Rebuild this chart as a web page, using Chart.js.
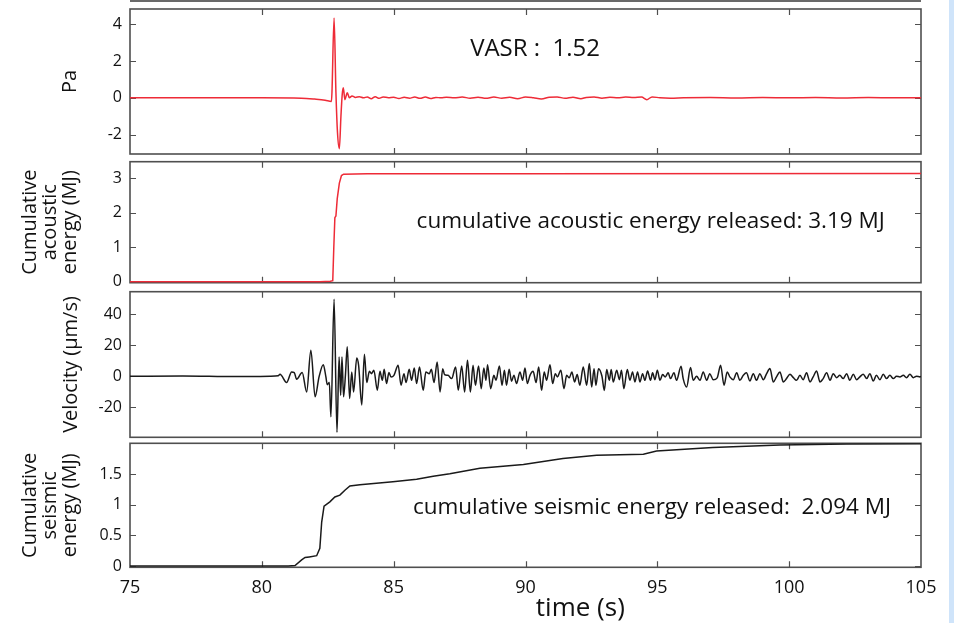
<!DOCTYPE html>
<html>
<head>
<meta charset="utf-8">
<script src="https://cdn.jsdelivr.net/npm/chart.js@4.4.0/dist/chart.umd.min.js"></script>
<style>
  html, body { margin: 0; padding: 0; background: #fff; }
  #wrap { position: relative; width: 954px; height: 623px; overflow: hidden; }
  #wrap canvas { position: absolute; left: 0; }
  #topline { position: absolute; left: 130px; top: 0; width: 791px; height: 2px; background: #6a6a6a; }
  #strip { position: absolute; left: 949px; top: 0; width: 5px; height: 623px; background: #cfe4fa; }
</style>
</head>
<body>
<div id="wrap">
  <div id="topline"></div>
  <canvas id="c1" width="954" height="160" style="top:0px"></canvas>
  <canvas id="c2" width="954" height="130" style="top:156px"></canvas>
  <canvas id="c3" width="954" height="152" style="top:287px"></canvas>
  <canvas id="c4" width="954" height="183" style="top:440px"></canvas>
  <div id="strip"></div>
</div>
<script>
// time axis
const timeTicks = [75, 80, 85, 90, 95, 100, 105];

// acoustic pressure (Pa)
const paTime = [75, 80, 81.5, 82.0, 82.4, 82.64, 82.66, 82.74, 82.81, 82.87, 82.94, 83.00, 83.05, 83.09, 83.15, 83.24, 83.32, 83.42, 83.55, 83.7, 83.85,
  84.0, 84.15, 84.3, 84.45, 84.6, 84.8, 85.0, 85.2, 85.4, 85.6, 85.8, 86.0, 86.2, 86.4, 86.6, 86.8, 87.0, 87.3, 87.6, 87.9, 88.2, 88.5, 88.8,
  89.1, 89.4, 89.7, 90.0, 90.3, 90.6, 90.9, 91.2, 91.5, 91.8, 92.1, 92.3, 92.6, 92.9, 93.2, 93.5, 93.8, 94.1, 94.4, 94.6, 94.8, 95.1, 95.5,
  96, 97, 98, 99, 100, 101, 102, 103, 104, 105];
const paValue = [0, 0, -0.02, -0.07, -0.13, -0.2, 0.3, 4.33, 0.3, -1.9, -2.76, -1.0, 0.2, 0.55, -0.1, 0.28, 0.0, 0.1, 0.02, 0.06, 0.0,
  0.05, -0.05, 0.06, -0.03, 0.05, 0.0, 0.03, -0.04, 0.03, -0.02, 0.04, -0.03, 0.04, -0.04, 0.02, 0.0, 0.03, 0.0, 0.04, -0.02, 0.03, -0.03, 0.04,
  -0.02, 0.03, -0.05, 0.04, 0.0, -0.06, 0.03, 0.05, -0.03, 0.03, -0.05, 0.02, 0.05, -0.02, 0.03, 0.0, 0.04, 0.01, 0.04, -0.1, 0.05, 0.0, -0.02,
  0.0, 0.01, -0.01, 0.01, 0, 0.01, -0.01, 0.01, 0, 0];
const paTicks = [-2, 0, 2, 4];

// cumulative acoustic energy (MJ)
const acTime = [75, 82.2, 82.6, 82.69, 82.73, 82.77, 82.81, 82.86, 82.94, 83.02, 83.1, 84, 90, 105];
const acValue = [0, 0, 0.01, 0.03, 1.0, 1.85, 1.9, 2.4, 2.85, 3.07, 3.11, 3.12, 3.125, 3.13];
const acTicks = [0, 0.5, 1, 1.5, 2, 2.5, 3];

// ground velocity (µm/s)
const velTime = [75, 77, 79, 80.31, 80.62, 80.69, 80.94, 81.13, 81.23, 81.32, 81.53, 81.70, 81.86, 82.02, 82.17, 82.33, 82.43, 82.48, 82.56,
  82.62, 82.74, 82.85, 82.93, 82.99, 83.04, 83.10, 83.17, 83.24, 83.33, 83.41, 83.48, 83.60, 83.67, 83.79, 83.89, 83.98, 84.08, 84.16, 84.25,
  84.38, 84.48, 84.57, 84.64, 84.73, 84.82, 84.90, 85.01, 85.17, 85.28, 85.39, 85.47, 85.59, 85.68, 85.78, 85.87, 85.98, 86.12, 86.22, 86.35,
  86.43, 86.53, 86.65, 86.76, 86.86, 86.93, 87.06, 87.20, 87.35, 87.45, 87.58, 87.69, 87.80, 87.91, 88.01, 88.10, 88.22, 88.32, 88.42, 88.50,
  88.56, 88.68, 88.80, 88.88, 89.01, 89.11, 89.20, 89.28, 89.38, 89.47, 89.56, 89.66, 89.79, 89.89, 89.98, 90.07, 90.17, 90.29, 90.40, 90.50,
  90.61, 90.71, 90.80, 90.93, 91.03, 91.13, 91.21, 91.34, 91.46, 91.56, 91.66, 91.76, 91.86, 91.96, 92.06, 92.19, 92.32, 92.42, 92.51, 92.60,
  92.67, 92.77, 92.90, 92.99, 93.08, 93.18, 93.25, 93.33, 93.46, 93.56, 93.64, 93.73, 93.86, 93.96, 94.06, 94.15, 94.25, 94.34, 94.44, 94.53,
  94.63, 94.74, 94.82, 94.91, 95.00, 95.10, 95.20, 95.30, 95.41, 95.50, 95.63, 95.73, 95.90, 95.98, 96.11, 96.26, 96.36, 96.49, 96.62, 96.74,
  96.87, 96.99, 97.12, 97.27, 97.40, 97.53, 97.65, 97.75, 97.88, 98.01, 98.13, 98.26, 98.38, 98.51, 98.64, 98.76, 98.89, 99.02, 99.14, 99.27,
  99.40, 99.52, 99.65, 99.78, 99.90, 100.03, 100.16, 100.28, 100.41, 100.53, 100.66, 100.79, 100.91, 101.04, 101.17, 101.29, 101.42, 101.55,
  101.67, 101.80, 101.92, 102.05, 102.18, 102.30, 102.43, 102.56, 102.68, 102.81, 102.94, 103.06, 103.19, 103.31, 103.44, 103.57, 103.69,
  103.82, 103.95, 104.07, 104.20, 104.33, 104.45, 104.58, 104.71, 104.83, 104.96, 105];
const velValue = [0, 0.2, -0.2, 0, 0.3, 1.3, -4, 2.8, 2.4, -1.9, 2.4, -10.1, 16.8, -13.3, -0.4, 7.5, -0.4, -5.4, -4.1,
  -26.2, 49.7, -36.1, 12.4, -12.3, 12.4, -13.3, 0.6, 19.1, -14.4, 2.8, -10.1, 11.8, 7.1, -18.5, 14.2, -4.1, 3.2, 1.7, 3.9,
  -9.0, 3.2, -2.6, 4.5, -4.7, 2.4, -0.4, 0.6, 7.1, -5.8, 1.7, -4.1, 4.5, -2.6, 5.4, -4.7, 6.0, -9.0, 2.8, 1.7,
  4.5, -4.1, 9.2, -10.1, 4.9, 1.1, 0.6, -1.5, 6.0, -9.0, 6.7, -10.1, 10.3, -10.1, 7.1, -5.8, 6.7, -8.0, 5.4, -2.6,
  7.5, -8.0, 0.6, -2.6, 6.7, -5.8, 3.9, -5.8, 4.5, -3.2, 0.6, -4.7, 2.8, -2.6, 5.4, -4.7, 0.6, 3.2, -4.1, 6.0,
  -9.0, 2.8, -2.6, 7.5, -4.7, 1.7, -0.4, 3.9, -8.0, 0.6, -1.0, 2.8, -3.7, 1.1, -5.8, 6.0, -5.8, 8.2, -6.9, 4.9,
  -5.8, 4.9, 0, -9.2, 4.3, -2.6, 4.3, -3.7, 3.9, -2.2, 3.9, -8.0, 4.3, -2.6, 2.8, -3.7, 2.8, -3.7, 1.7, -2.6,
  3.4, -2.6, 2.2, -2.2, 3.9, -2.6, 1.1, -0.4, 2.2, -1.5, 2.2, -2.6, 6.5, -1.5, -6.9, 5.6, -2.6, 0, -2.6, 2.8,
  -2.6, 1.7, -2.2, -1.0, 7.1, -5.8, 2.8, -0.4, -2.2, 2.2, -2.6, 0.6, 2.2, -3.0, 1.7, -2.6, 1.7, -2.2, 1.5, 5.0,
  -3.7, -0.4, 2.8, -3.7, -1.5, 1.3, -0.9, -2.6, 0.6, -2.2, 2.2, -3.7, -0.4, 3.4, -3.7, -1.5, 2.2, -2.6,
  1.7, -0.9, 0.6, -1.5, 1.7, -2.6, 1.3, -2.2, -0.4, 1.3, -1.5, 1.7, -3.0, 0.6, -2.2, 1.3, -1.5,
  0.6, -1.5, 0, -0.4, 0.6, -0.9, 1.3, -0.9, 0, -0.4, 0];
const velTicks = [-20, 0, 20, 40];

// cumulative seismic energy (MJ)
const seTime = [75, 80.56, 81.0, 81.26, 81.51, 81.64, 81.8, 82.08, 82.2, 82.27, 82.36, 82.58, 82.77, 82.96, 83.15, 83.34, 83.72,
  84.97, 85.87, 86.5, 87.13, 88.27, 89.92, 91.42, 92.7, 94.47, 94.97, 97.1, 99.65, 102.18, 104.83, 105];
const seValue = [0, 0, 0.003, 0.01, 0.10, 0.14, 0.15, 0.17, 0.29, 0.72, 0.98, 1.05, 1.13, 1.16, 1.24, 1.31, 1.33,
  1.38, 1.42, 1.47, 1.51, 1.6, 1.66, 1.76, 1.81, 1.83, 1.88, 1.94, 1.98, 1.995, 2.0, 2.0];
const seTicks = [0, 0.5, 1, 1.5];

const FONT = "'Open Sans', 'Noto Sans', sans-serif";
const RED = '#ee2b37';
const BLACK = '#1a1a1a';

// box + inward tick marks, MATLAB style
const framePlugin = {
  id: 'frame',
  beforeDatasetsDraw(chart) {
    const {ctx, chartArea: a, scales: {x, y}} = chart;
    ctx.save();
    ctx.strokeStyle = '#4f4f4f';
    ctx.lineWidth = 1.2;
    ctx.beginPath();
    timeTicks.forEach(t => {
      if (t <= x.min || t >= x.max) return;
      const px = Math.round(x.getPixelForValue(t)) + 0.5;
      ctx.moveTo(px, a.top); ctx.lineTo(px, a.top + 6);
      ctx.moveTo(px, a.bottom); ctx.lineTo(px, a.bottom - 6);
    });
    y.ticks.forEach(tk => {
      const py = Math.round(y.getPixelForValue(tk.value)) + 0.5;
      ctx.moveTo(a.left, py); ctx.lineTo(a.left + 6, py);
      ctx.moveTo(a.right, py); ctx.lineTo(a.right - 6, py);
    });
    ctx.stroke();
    ctx.lineWidth = 1.6;
    ctx.strokeRect(a.left, a.top, a.right - a.left, a.bottom - a.top);
    ctx.restore();
  }
};

// free text placed in data coordinates
const notesPlugin = {
  id: 'notes',
  afterDraw(chart, args, opts) {
    const {ctx, scales: {x, y}} = chart;
    (opts.items || []).forEach(n => {
      ctx.save();
      ctx.font = n.font;
      ctx.fillStyle = '#111';
      ctx.textAlign = n.align || 'left';
      ctx.textBaseline = 'middle';
      const py = n.below !== undefined ? chart.chartArea.bottom + n.below : y.getPixelForValue(n.y);
      ctx.fillText(n.text, x.getPixelForValue(n.x), py);
      ctx.restore();
    });
  }
};

function noPad(s) {
  s.paddingTop = 0;
  s.paddingBottom = 0;
  s.paddingLeft = 0;
  s.paddingRight = 0;
}

function makePanel(id, o) {
  const pts = o.time.map((t, i) => ({x: t, y: o.value[i]}));
  return new Chart(document.getElementById(id), {
    type: 'line',
    data: {
      datasets: [{
        data: pts,
        borderColor: o.color,
        borderWidth: 1.5,
        pointRadius: 0,
        fill: false,
        cubicInterpolationMode: o.smooth ? 'monotone' : 'default',
        tension: o.smooth ? 0.4 : 0
      }]
    },
    options: {
      responsive: false,
      animation: false,
      events: [],
      layout: { padding: { top: o.padTop, bottom: o.padBottom, left: 0, right: 33 } },
      plugins: {
        legend: { display: false },
        tooltip: { enabled: false },
        notes: { items: o.notes }
      },
      scales: {
        x: {
          type: 'linear',
          min: 75,
          max: 105,
          display: !!o.showX,
          grid: { display: false, drawTicks: false },
          border: { display: false },
          afterBuildTicks: s => { s.ticks = timeTicks.map(v => ({value: v})); },
          afterFit: s => { noPad(s); if (o.showX) s.height = o.xHeight; },
          ticks: {
            padding: 10,
            color: '#111',
            font: { family: FONT, size: 18 },
            maxRotation: 0,
            callback: v => String(v)
          }
        },
        y: {
          min: o.min,
          max: o.max,
          grid: { display: false, drawTicks: false },
          border: { display: false },
          afterBuildTicks: s => { s.ticks = o.ticks.map(v => ({value: v})); },
          afterFit: s => { noPad(s); s.width = 130; },
          ticks: {
            padding: 8,
            color: '#111',
            font: { family: FONT, size: 16 },
            callback: o.label || (v => String(v))
          },
          title: {
            display: true,
            text: o.title,
            color: '#111',
            font: { family: FONT, size: 20, lineHeight: o.titleLH || 1.1 },
            padding: { top: o.titlePad, bottom: 0 }
          }
        }
      }
    },
    plugins: [framePlugin, notesPlugin]
  });
}

makePanel('c1', {
  time: paTime, value: paValue, color: RED, smooth: true,
  min: -3.05, max: 4.82, ticks: paTicks,
  padTop: 9, padBottom: 6,
  title: 'Pa', titlePad: 59,
  notes: [{text: 'VASR :  1.52', x: 87.9, y: 2.65, font: '24px ' + FONT}]
});

makePanel('c2', {
  time: acTime, value: acValue, color: RED,
  min: -0.03, max: 3.47, ticks: acTicks,
  label: v => Number.isInteger(v) ? String(v) : '',
  padTop: 5.7, padBottom: 3.3,
  title: ['Cumulative', 'acoustic', 'energy (MJ)'], titlePad: 20, titleLH: 1.0,
  notes: [{text: 'cumulative acoustic energy released: 3.19 MJ', x: 85.87, y: 1.75, font: '22.5px ' + FONT}]
});

makePanel('c3', {
  time: velTime, value: velValue, color: BLACK, smooth: true,
  min: -39.4, max: 54.6, ticks: velTicks,
  padTop: 4.7, padBottom: 1.7,
  title: 'Velocity (µm/s)', titlePad: 60,
  notes: []
});

makePanel('c4', {
  time: seTime, value: seValue, color: BLACK,
  min: -0.02, max: 2.007, ticks: seTicks,
  padTop: 3.3, padBottom: 0, showX: true, xHeight: 55.7,
  title: ['Cumulative', 'seismic', 'energy (MJ)'], titlePad: 20, titleLH: 1.0,
  notes: [
    {text: 'cumulative seismic energy released:  2.094 MJ', x: 85.73, y: 0.96, font: '22.5px ' + FONT},
    {text: 'time (s)', x: 92.08, below: 41, align: 'center', font: '26px ' + FONT}
  ]
});
</script>
</body>
</html>
